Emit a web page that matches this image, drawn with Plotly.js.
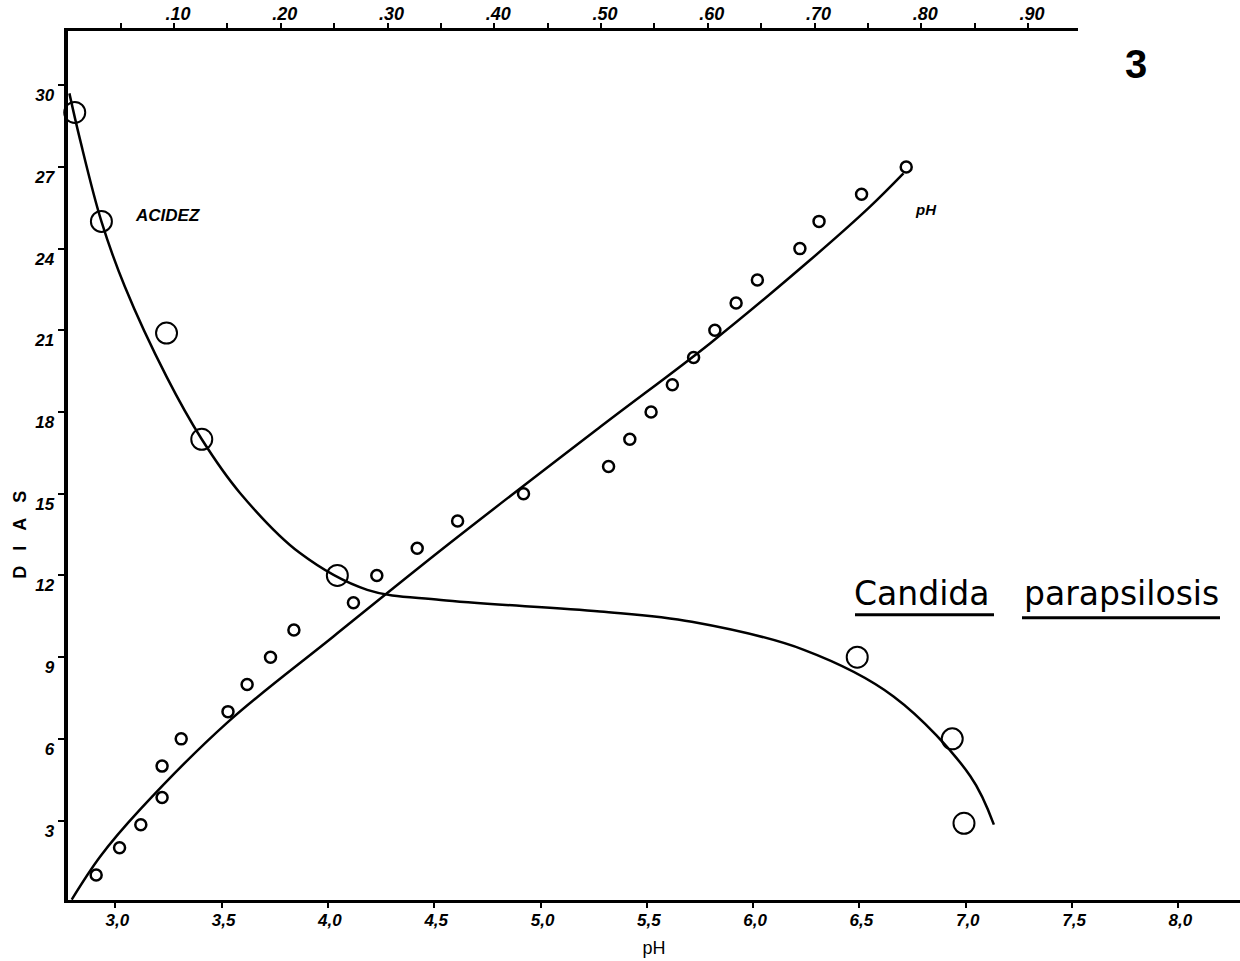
<!DOCTYPE html>
<html>
<head>
<meta charset="utf-8">
<script src="https://cdn.plot.ly/plotly-3.0.1.min.js"></script>
<style>html,body{margin:0;padding:0;background:#fff;}#chart{width:1240px;height:961px;}</style>
</head>
<body>
<div id="chart"></div>
<script>
// ---- Data ----
// pH measurements (small circles): day vs pH (bottom axis)
const pHDays   = [1, 2, 2.85, 3.85, 5, 6, 7, 8, 9, 10, 11, 12, 13, 14, 15, 16, 17, 18, 19, 20, 21, 22, 22.85, 24, 25, 26, 27];
const pHValues = [2.91, 3.02, 3.12, 3.22, 3.22, 3.31, 3.53, 3.62, 3.73, 3.84, 4.12, 4.23, 4.42, 4.61, 4.92, 5.32, 5.42, 5.52, 5.62, 5.72, 5.82, 5.92, 6.02, 6.22, 6.31, 6.51, 6.72];

// Acidity measurements (large circles): day vs acidity (top axis)
const acidDays   = [29.0, 25.0, 20.9, 17.0, 12.0, 9.0, 6.0, 2.9];
const acidValues = [0.007, 0.032, 0.093, 0.126, 0.253, 0.740, 0.829, 0.840];

// Hand-drawn fitted curves
const pHCurveX = [2.795, 2.93, 3.116, 3.524, 4.026, 4.574, 5.28, 5.797, 6.268, 6.55, 6.707];
const pHCurveY = [0.1, 1.69, 3.40, 6.58, 9.76, 13.19, 17.45, 20.52, 23.58, 25.54, 26.76];
const acidCurveX = [0.002, 0.012, 0.032, 0.054, 0.093, 0.126, 0.162, 0.218, 0.281, 0.35, 0.499, 0.585, 0.690, 0.774, 0.846, 0.868];
const acidCurveY = [29.7, 28.0, 25.0, 22.6, 19.3, 17.0, 15.02, 12.82, 11.47, 11.1, 10.68, 10.3, 9.27, 7.56, 4.63, 2.85];

// Tick labels
const pHTicks = [3.0, 3.5, 4.0, 4.5, 5.0, 5.5, 6.0, 6.5, 7.0, 7.5, 8.0];
const pHTickText = ['3,0', '3,5', '4,0', '4,5', '5,0', '5,5', '6,0', '6,5', '7,0', '7,5', '8,0'];
const acidTicks = [0.05, 0.10, 0.15, 0.20, 0.25, 0.30, 0.35, 0.40, 0.45, 0.50, 0.55, 0.60, 0.65, 0.70, 0.75, 0.80, 0.85, 0.90];
const acidTickText = ['', '.10', '', '.20', '', '.30', '', '.40', '', '.50', '', '.60', '', '.70', '', '.80', '', '.90'];
const dayTicks = [3, 6, 9, 12, 15, 18, 21, 24, 27, 30];
const dayTickText = ['3', '6', '9', '12', '15', '18', '21', '24', '27', '30'];

// ---- Layout helpers (pixel -> paper) ----
const L = 68, R = 1240, T = 30.7, B = 900.5;
const px = x => (x - L) / (R - L);
const py = y => (B - y) / (B - T);

const FAM = 'Liberation Sans, Arial, sans-serif';
const tickFont = {family: FAM, size: 17, color: '#000', weight: 'bold', style: 'italic'};

const traces = [
  {x: pHCurveX, y: pHCurveY, xaxis: 'x', yaxis: 'y', mode: 'lines',
   line: {color: '#000', width: 2.5, shape: 'spline', smoothing: 1}, hoverinfo: 'skip', cliponaxis: false},
  {x: acidCurveX, y: acidCurveY, xaxis: 'x2', yaxis: 'y', mode: 'lines',
   line: {color: '#000', width: 2.5, shape: 'spline', smoothing: 1}, hoverinfo: 'skip', cliponaxis: false},
  {x: pHValues, y: pHDays, xaxis: 'x', yaxis: 'y', mode: 'markers', name: 'pH',
   marker: {symbol: 'circle-open', size: 11, color: '#000', line: {color: '#000', width: 2.5}}, cliponaxis: false},
  {x: acidValues, y: acidDays, xaxis: 'x2', yaxis: 'y', mode: 'markers', name: 'Acidez',
   marker: {symbol: 'circle-open', size: 21, color: '#000', line: {color: '#000', width: 2}}, cliponaxis: false}
];

const layout = {
  width: 1240, height: 961,
  margin: {l: L, r: 1240 - R, t: T, b: 961 - B, pad: 0},
  paper_bgcolor: '#fff', plot_bgcolor: 'rgba(0,0,0,0)',
  showlegend: false,
  xaxis: {
    range: [2.7775, 8.29], showgrid: false, zeroline: false,
    showline: true, linecolor: '#000', linewidth: 3,
    tickmode: 'array', tickvals: pHTicks, ticktext: pHTickText,
    ticks: 'outside', ticklen: 5, tickwidth: 2, tickcolor: '#000',
    tickfont: tickFont, ticklabelshift: 2, ticklabelstandoff: -2,
    title: {text: 'pH', font: {family: FAM, size: 18, color: '#000'}, standoff: 12}
  },
  xaxis2: {
    domain: [0, (1078 - L) / (R - L)], anchor: 'y', side: 'top',
    range: [0.0007, 0.9468], showgrid: false, zeroline: false,
    showline: true, linecolor: '#000', linewidth: 3,
    tickmode: 'array', tickvals: acidTicks, ticktext: acidTickText,
    ticks: 'outside', ticklen: 5, tickwidth: 2, tickcolor: '#000',
    tickfont: {family: FAM, size: 18, color: '#000', weight: 'bold', style: 'italic'},
    ticklabelshift: 4, ticklabelstandoff: -4
  },
  yaxis: {
    range: [0.084, 31.99], showgrid: false, zeroline: false,
    showline: true, linecolor: '#000', linewidth: 4.5,
    tickmode: 'array', tickvals: dayTicks, ticktext: dayTickText,
    ticks: 'outside', ticklen: 6, tickwidth: 2, tickcolor: '#000',
    tickfont: tickFont, ticklabelshift: 10
  },
  annotations: [
    {xref: 'paper', yref: 'paper', x: px(20), y: py(535), text: 'D\u00A0\u00A0\u00A0I\u00A0\u00A0\u00A0A\u00A0\u00A0\u00A0S', showarrow: false,
     textangle: -90, xanchor: 'center', yanchor: 'middle', font: {family: FAM, size: 18, color: '#000', weight: 'bold'}},
    {xref: 'paper', yref: 'paper', x: px(1136), y: py(64), text: '3', showarrow: false,
     xanchor: 'center', yanchor: 'middle', font: {family: FAM, size: 40, color: '#000', weight: 'bold'}},
    {xref: 'paper', yref: 'paper', x: px(167), y: py(215), text: 'ACIDEZ', showarrow: false,
     xanchor: 'center', yanchor: 'middle', font: {family: FAM, size: 17, color: '#000', weight: 'bold', style: 'italic'}},
    {xref: 'paper', yref: 'paper', x: px(926), y: py(209), text: 'pH', showarrow: false,
     xanchor: 'center', yanchor: 'middle', font: {family: FAM, size: 15, color: '#000', weight: 'bold', style: 'italic'}},
    {xref: 'paper', yref: 'paper', x: px(921), y: py(594), text: 'Candida', showarrow: false,
     xanchor: 'center', yanchor: 'middle', font: {family: 'DejaVu Sans, sans-serif', size: 33, color: '#000'}},
    {xref: 'paper', yref: 'paper', x: px(1121), y: py(594), text: 'parapsilosis', showarrow: false,
     xanchor: 'center', yanchor: 'middle', font: {family: 'DejaVu Sans, sans-serif', size: 33, color: '#000'}}
  ],
  shapes: [
    {type: 'line', xref: 'paper', yref: 'paper', x0: px(855), x1: px(994), y0: py(615), y1: py(615), line: {color: '#000', width: 3}},
    {type: 'line', xref: 'paper', yref: 'paper', x0: px(1022), x1: px(1220), y0: py(618), y1: py(618), line: {color: '#000', width: 3}}
  ]
};

Plotly.newPlot('chart', traces, layout, {displayModeBar: false, staticPlot: true});
</script>
</body>
</html>
